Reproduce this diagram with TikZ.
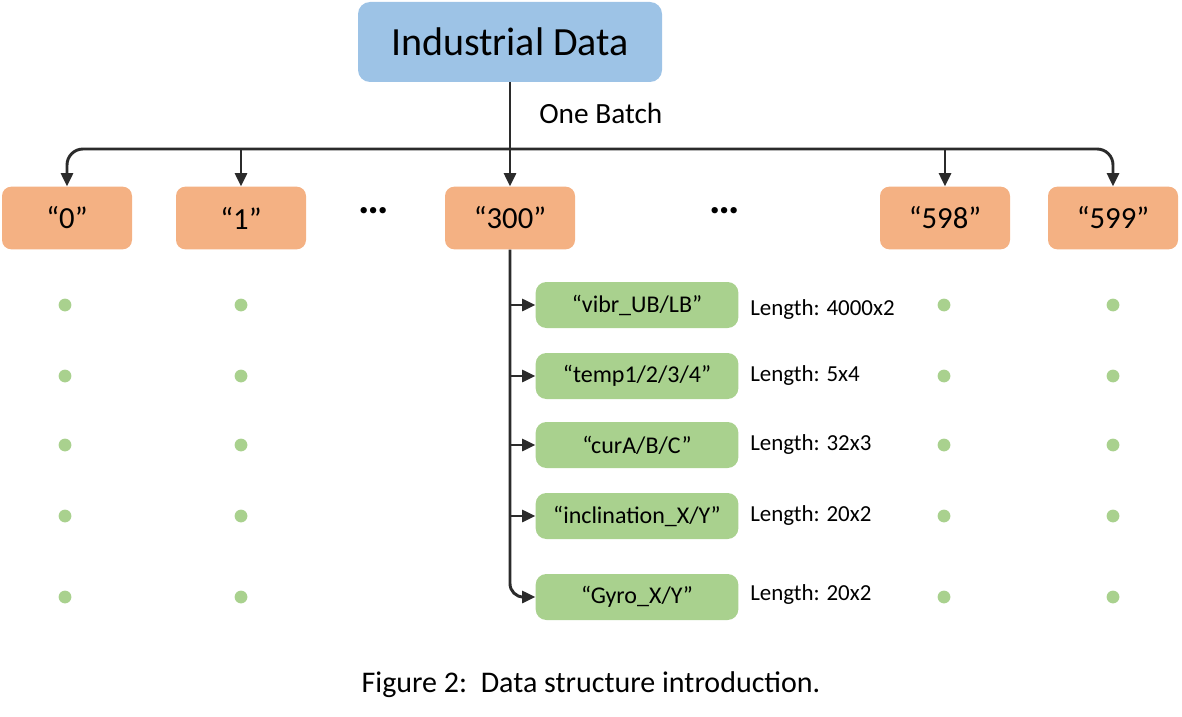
\documentclass[tikz,border=0pt]{standalone}
\usepackage{fontspec}
\setmainfont{Carlito}
\usetikzlibrary{arrows.meta}
\definecolor{boxblue}{HTML}{9DC3E6}
\definecolor{boxorange}{HTML}{F4B183}
\definecolor{boxgreen}{HTML}{A9D18E}
\definecolor{linegray}{HTML}{2B2B2B}
\begin{document}
\begin{tikzpicture}
  [x=0.75pt,y=-0.75pt,
   top/.style={fill=boxblue,rounded corners=9pt,minimum width=228pt,minimum height=60pt,font=\fontsize{30}{33}\selectfont},
   sample/.style={fill=boxorange,rounded corners=7pt,minimum width=97.5pt,minimum height=47pt,font=\fontsize{23}{25}\selectfont},
   field/.style={fill=boxgreen,rounded corners=8pt,minimum width=152pt,minimum height=34.5pt,font=\fontsize{18}{20}\selectfont},
   len/.style={anchor=west,inner sep=0pt,font=\fontsize{17.2}{19}\selectfont},
   arr/.style={draw=linegray,line width=2.2pt,-{Triangle[length=10pt,width=9pt]}}]
  \useasboundingbox (0,0) rectangle (1182,717);
  \node[top] (data) at (510,42) {Industrial Data};
  \node[anchor=west,inner sep=0pt,font=\fontsize{22}{24}\selectfont] (batch) at (539,113) {One Batch};
  \node[sample] (n0) at (67,218) {“0”};
  \node[sample] (n1) at (241,218) {“1”};
  \node[sample] (n300) at (510,218) {“300”};
  \node[sample] (n598) at (945,218) {“598”};
  \node[sample] (n599) at (1113,218) {“599”};
  \node[font=\fontsize{32}{34}\selectfont\bfseries] (dots1) at (374,211) {…};
  \node[font=\fontsize{32}{34}\selectfont\bfseries] (dots2) at (725,211) {…};
  \coordinate (bus) at (510,149);
  \draw[arr] (data) -- (n300);
  \draw[arr,rounded corners=12pt] (bus) -| (n0);
  \draw[arr,rounded corners=12pt] (bus) -| (n599);
  \draw[arr] (n1 |- bus) -- (n1);
  \draw[arr] (n598 |- bus) -- (n598);
  % signals of one sample
  \node[field] (vibr) at (637,305) {“vibr\_UB/LB”};
  \node[field] (temp) at (637,376) {“temp1/2/3/4”};
  \node[field] (cur) at (637,445) {“curA/B/C”};
  \node[field] (incl) at (637,516) {“inclination\_X/Y”};
  \node[field] (gyro) at (637,597) {“Gyro\_X/Y”};
  \node[len] (lvibr) at (750,310) {Length: 4000x2};
  \node[len] (ltemp) at (750,376) {Length: 5x4};
  \node[len] (lcur) at (750,445) {Length: 32x3};
  \node[len] (lincl) at (750,516) {Length: 20x2};
  \node[len] (lgyro) at (750,595) {Length: 20x2};
  \draw[arr,rounded corners=10pt] (n300) |- (gyro);
  \foreach \f in {vibr,temp,cur,incl}
  \draw[arr] (n300 |- \f) -- (\f);
  \foreach \x in {65,241,944,1113}
  \foreach \y in {305,376,445,516,597}
  \fill[boxgreen] (\x,\y) circle (4.8pt);
  \node[font=\fontsize{22.5}{25}\selectfont] (caption) at (591,685) {Figure 2:\ \ Data structure introduction.};
\end{tikzpicture}
\end{document}
